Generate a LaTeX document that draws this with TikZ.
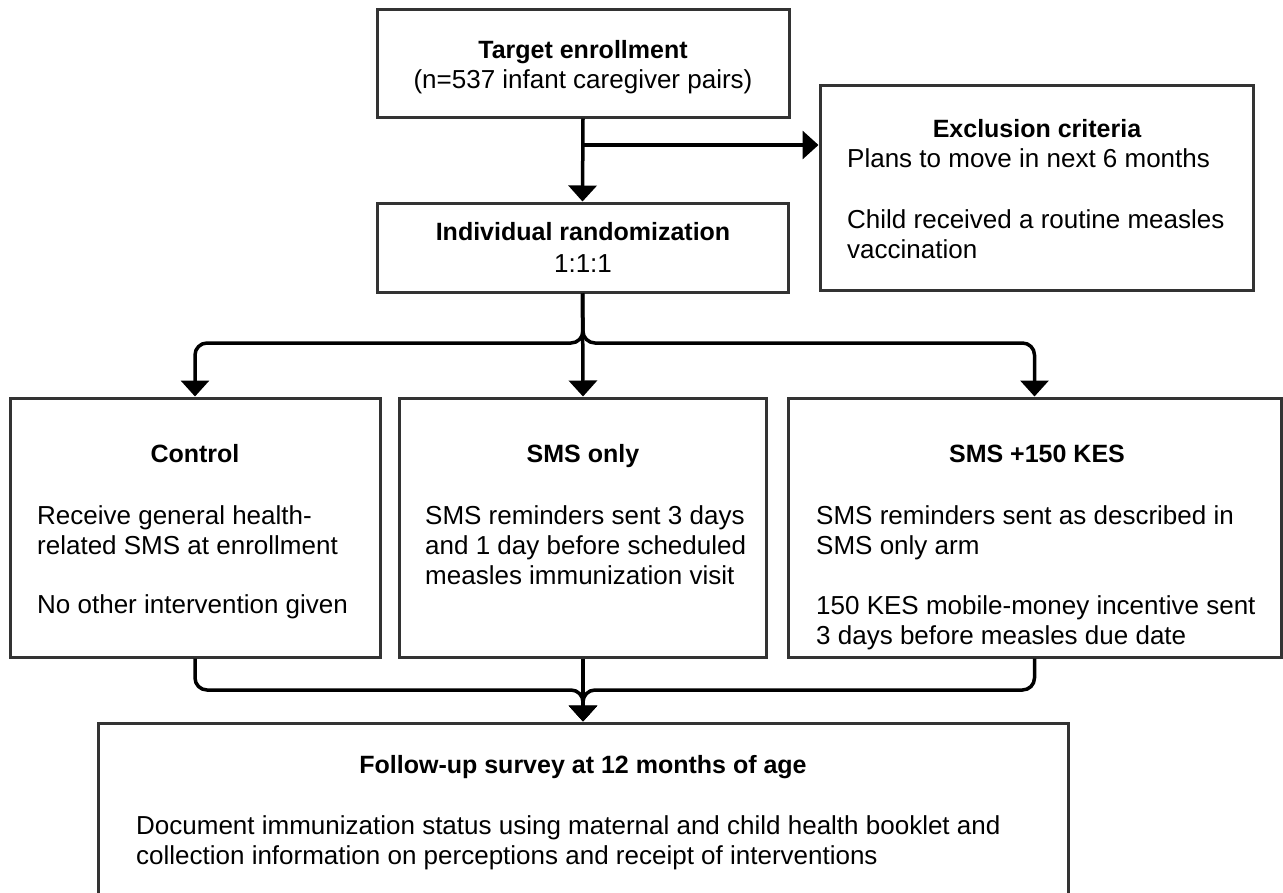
\documentclass[tikz,border=0pt]{standalone}
\usepackage{fontspec}
\setmainfont{Liberation Sans}
\usetikzlibrary{arrows.meta}
\definecolor{boxc}{HTML}{333333}
\begin{document}
\begin{tikzpicture}[x=1pt,y=-1pt,
  box/.style={draw=boxc, line width=3pt, fill=white, inner sep=0pt},
  ttl/.style={font=\bfseries\fontsize{25}{30}\selectfont, anchor=base, inner sep=0pt},
  bodyc/.style={font=\fontsize{26}{30}\selectfont, anchor=base, inner sep=0pt},
  bodyl/.style={font=\fontsize{26}{30}\selectfont, anchor=base west, inner sep=0pt},
  conn/.style={line width=3.5pt, draw=black, rounded corners=12pt},
  arr/.style={conn, -{Triangle[width=28pt 0, length=16pt 0]}}
]
\useasboundingbox (0,0) rectangle (1283,892);
\fill[white] (0,0) rectangle (1283,892);
\clip (0,0) rectangle (1283,892);

% boxes
\node[box, minimum width=412pt, minimum height=108pt] (target) at (583,63) {};
\node[box, minimum width=411pt, minimum height=89pt] (rand) at (582.5,247.5) {};
\node[box, minimum width=433pt, minimum height=205pt] (excl) at (1036.5,187.5) {};
\node[box, minimum width=370pt, minimum height=259pt] (control) at (195,527.5) {};
\node[box, minimum width=367pt, minimum height=259pt] (smsonly) at (583,527.5) {};
\node[box, minimum width=493pt, minimum height=259pt] (sms150) at (1034.5,527.5) {};
\node[box, minimum width=970pt, minimum height=190pt] (fu) at (583,818) {};

% texts
\node[ttl] (t1) at (583,58) {Target enrollment};
\node[bodyc] (t2) at (583,88) {(n=537 infant caregiver pairs)};
\node[ttl] (r1) at (583,240) {Individual randomization};
\node[bodyc] (r2) at (583,272) {1:1:1};

\node[ttl] (e1) at (1037,137) {Exclusion criteria};
\node[bodyl] (e2) at (847,167) {Plans to move in next 6 months};
\node[bodyl] (e3) at (847,228) {Child received a routine measles};
\node[bodyl] (e4) at (847,258) {vaccination};

\node[ttl] (c0) at (195,462) {Control};
\node[bodyl] (c1) at (37,524) {Receive general health-};
\node[bodyl] (c2) at (37,554) {related SMS at enrollment};
\node[bodyl] (c3) at (37,613) {No other intervention given};

\node[ttl] (s0) at (583,462) {SMS only};
\node[bodyl] (s1) at (425,524) {SMS reminders sent 3 days};
\node[bodyl] (s2) at (425,554) {and 1 day before scheduled};
\node[bodyl] (s3) at (425,584) {measles immunization visit};

\node[ttl] (k0) at (1037,462) {SMS +150 KES};
\node[bodyl] (k1) at (816,524) {SMS reminders sent as described in};
\node[bodyl] (k2) at (816,554) {SMS only arm};
\node[bodyl] (k3) at (816,614) {150 KES mobile-money incentive sent};
\node[bodyl] (k4) at (816,644) {3 days before measles due date};

\node[ttl] (f0) at (583,773) {Follow-up survey at 12 months of age};
\node[bodyl] (f1) at (136,834) {Document immunization status using maternal and child health booklet and};
\node[bodyl] (f2) at (136,864) {collection information on perceptions and receipt of interventions};

% connectors
\coordinate (branch) at (583,145);
\coordinate (split) at (583,343);
\coordinate (merge) at (583,690);
\draw[arr] (target.south) -- (rand.north);
\draw[arr] (branch) -- (branch -| excl.west);
\draw[arr] (rand.south) -- (split) -| (control.north);
\draw[arr] (rand.south) -- (split) -| (sms150.north);
\draw[arr] (rand.south) -- (smsonly.north);
\draw[arr] (control.south) |- (merge) -- (fu.north);
\draw[arr] (sms150.south) |- (merge) -- (fu.north);
\draw[arr] (smsonly.south) -- (fu.north);
\end{tikzpicture}
\end{document}
